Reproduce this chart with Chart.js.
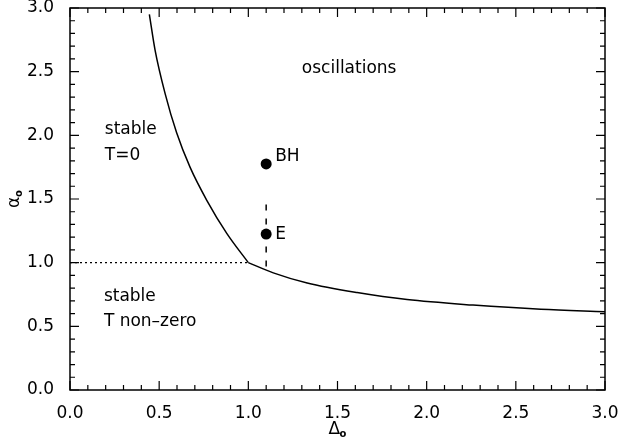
<!DOCTYPE html>
<html>
<head>
<meta charset="utf-8">
<script src="https://cdn.jsdelivr.net/npm/chart.js@4"></script>
<style>
html,body{margin:0;padding:0;background:#fff;}
#wrap{width:618px;height:444px;}
</style>
</head>
<body>
<div id="wrap"><canvas id="c" width="618" height="444"></canvas></div>
<script>
// ---- data ----
const upperDelta = [0.445, 0.477, 0.533, 0.598, 0.673, 0.767, 0.879, 1.0];
const upperAlpha = [2.95, 2.67, 2.33, 2.02, 1.75, 1.49, 1.23, 1.0];
const lowerDelta = [1.0, 1.14, 1.33, 1.61, 1.89, 2.26, 2.64, 3.0];
const lowerAlpha = [1.0, 0.92, 0.84, 0.765, 0.71, 0.667, 0.634, 0.615];
const dottedDelta = [0.0, 1.0];
const dottedAlpha = [1.0, 1.0];
const dashedDelta = [1.1, 1.1];
const dashedAlpha = [0.97, 1.49];
const pointNames = ['BH', 'E'];
const pointDelta = [1.1, 1.1];
const pointAlpha = [1.775, 1.225];
const xTicks = [0.0, 0.5, 1.0, 1.5, 2.0, 2.5, 3.0];
const yTicks = [0.0, 0.5, 1.0, 1.5, 2.0, 2.5, 3.0];
const regionLabels = [
  {text: 'oscillations', x: 1.30, y: 2.49},
  {text: 'stable', x: 0.195, y: 2.01},
  {text: 'T=0', x: 0.195, y: 1.81},
  {text: 'stable', x: 0.19, y: 0.70},
  {text: 'T non\u2013zero', x: 0.19, y: 0.50}
];

const FONT = '"DejaVu Sans", sans-serif';
const pts = (xs, ys) => xs.map((x, i) => ({x: x, y: ys[i]}));

const framePlugin = {
  id: 'frame',
  afterDraw(chart) {
    const ctx = chart.ctx;
    const a = chart.chartArea;
    const xs = chart.scales.x, ys = chart.scales.y;
    ctx.save();
    ctx.strokeStyle = '#000';
    ctx.lineWidth = 1.5;
    ctx.strokeRect(a.left, a.top, a.right - a.left, a.bottom - a.top);
    ctx.lineWidth = 1.2;
    for (let k = 0; k <= 30; k++) {
      const v = k / 10;
      const major = k % 5 === 0;
      const L = major ? 9 : 5;
      const px = xs.getPixelForValue(v);
      const py = ys.getPixelForValue(v);
      ctx.beginPath();
      ctx.moveTo(px, a.bottom); ctx.lineTo(px, a.bottom - L);
      ctx.moveTo(px, a.top); ctx.lineTo(px, a.top + L);
      ctx.moveTo(a.left, py); ctx.lineTo(a.left + L, py);
      ctx.moveTo(a.right, py); ctx.lineTo(a.right - L, py);
      ctx.stroke();
    }
    ctx.fillStyle = '#000';
    ctx.font = '17px ' + FONT;
    ctx.textAlign = 'left';
    ctx.textBaseline = 'alphabetic';
    regionLabels.forEach(l => {
      ctx.fillText(l.text, xs.getPixelForValue(l.x), ys.getPixelForValue(l.y));
    });
    pointNames.forEach((n, i) => {
      ctx.fillText(n, xs.getPixelForValue(pointDelta[i]) + 9, ys.getPixelForValue(pointAlpha[i]) + (i === 0 ? -3 : 5));
    });
    const xc = (a.left + a.right) / 2;
    ctx.font = '17px ' + FONT;
    ctx.fillText('\u0394', xc - 9, 434);
    ctx.font = 'bold 10px ' + FONT;
    ctx.fillText('o', xc + 2, 437);
    ctx.translate(19, (a.top + a.bottom) / 2);
    ctx.rotate(-Math.PI / 2);
    ctx.font = '17px ' + FONT;
    ctx.fillText('\u03b1', -9, 0);
    ctx.font = 'bold 10px ' + FONT;
    ctx.fillText('o', 2, 3);
    ctx.restore();
  }
};

const noPad = s => { s.paddingTop = 0; s.paddingBottom = 0; s.paddingLeft = 0; s.paddingRight = 0; };

new Chart(document.getElementById('c'), {
  type: 'scatter',
  data: {
    datasets: [
      {data: pts(upperDelta, upperAlpha), showLine: true, borderColor: '#000', borderWidth: 1.5, pointRadius: 0, cubicInterpolationMode: 'monotone', fill: false},
      {data: pts(lowerDelta, lowerAlpha), showLine: true, borderColor: '#000', borderWidth: 1.5, pointRadius: 0, cubicInterpolationMode: 'monotone', fill: false},
      {data: pts(dottedDelta, dottedAlpha), showLine: true, borderColor: '#000', borderWidth: 1.2, borderDash: [2, 3], pointRadius: 0, fill: false},
      {data: pts(dashedDelta, dashedAlpha), showLine: true, borderColor: '#000', borderWidth: 1.5, borderDash: [6, 8], pointRadius: 0, fill: false},
      {data: pts(pointDelta, pointAlpha), showLine: false, pointRadius: 5.5, pointBackgroundColor: '#000', pointBorderColor: '#000', pointBorderWidth: 0}
    ]
  },
  options: {
    responsive: false,
    animation: false,
    devicePixelRatio: 1,
    layout: {padding: {top: 8, right: 13, left: 0, bottom: 0}},
    plugins: {legend: {display: false}, tooltip: {enabled: false}},
    scales: {
      x: {
        type: 'linear', min: 0, max: 3,
        afterFit: s => { s.height = 54; noPad(s); },
        afterBuildTicks: s => { s.ticks = xTicks.map(v => ({value: v})); },
        grid: {display: false}, border: {display: false},
        ticks: {color: '#000', font: {family: FONT, size: 17}, padding: 5, maxRotation: 0, callback: v => v.toFixed(1)}
      },
      y: {
        type: 'linear', min: 0, max: 3,
        afterFit: s => { s.width = 70; noPad(s); },
        afterBuildTicks: s => { s.ticks = yTicks.map(v => ({value: v})); },
        grid: {display: false}, border: {display: false},
        ticks: {color: '#000', font: {family: FONT, size: 17}, padding: 8, callback: v => v.toFixed(1)}
      }
    }
  },
  plugins: [framePlugin]
});
</script>
</body>
</html>
